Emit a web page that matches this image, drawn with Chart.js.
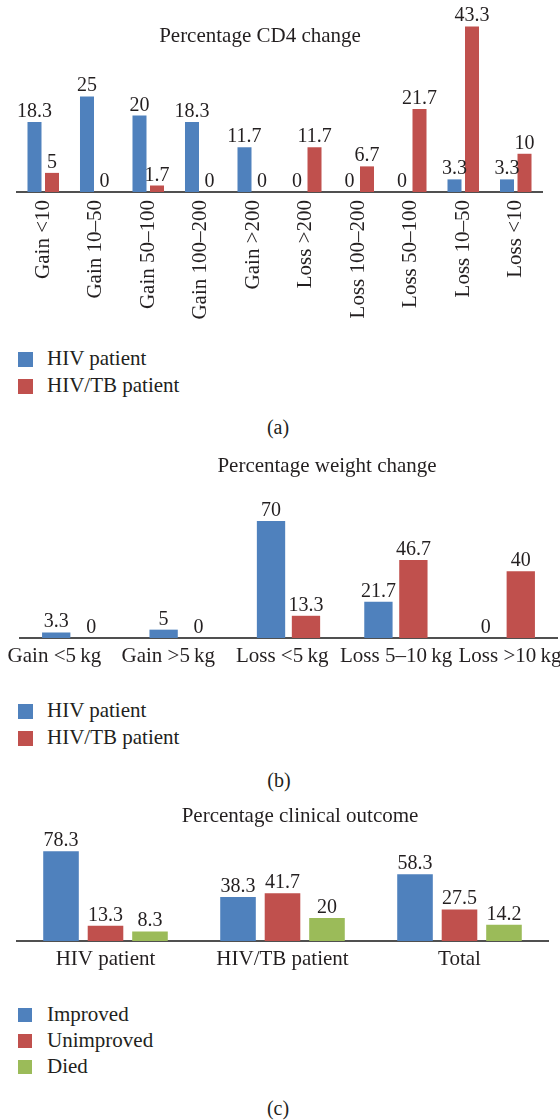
<!DOCTYPE html>
<html>
<head>
<meta charset="utf-8">
<script src="https://cdn.jsdelivr.net/npm/chart.js@4.4.1/dist/chart.umd.min.js"></script>
<style>
  html, body { margin: 0; padding: 0; background: #fff; }
  body { width: 560px; height: 1120px; position: relative; overflow: hidden;
         font-family: "Liberation Serif", "DejaVu Serif", serif; color: #231f20; }
  canvas { position: absolute; left: 0; }
  .txt { position: absolute; white-space: nowrap; line-height: 1; }
  .ctr { transform: translate(-50%, -50%); }
  .lft { transform: translate(0, -50%); }
  .sq { position: absolute; }
</style>
</head>
<body>
<canvas id="cd4" width="560" height="330" style="top:0px"></canvas>
<canvas id="weight" width="560" height="220" style="top:470px"></canvas>
<canvas id="outcome" width="560" height="175" style="top:825px"></canvas>
<div id="overlay"></div>
<script>
// ---------------- data ----------------
const cd4Categories = ['Gain <10', 'Gain 10–50', 'Gain 50–100', 'Gain 100–200', 'Gain >200',
                       'Loss >200', 'Loss 100–200', 'Loss 50–100', 'Loss 10–50', 'Loss <10'];
const cd4Hiv   = [18.3, 25, 20, 18.3, 11.7, 0, 0, 0, 3.3, 3.3];
const cd4HivTb = [5, 0, 1.7, 0, 0, 11.7, 6.7, 21.7, 43.3, 10];

const weightCategories = ['Gain <5\u2009kg', 'Gain >5\u2009kg', 'Loss <5\u2009kg', 'Loss 5–10\u2009kg', 'Loss >10\u2009kg'];
const weightHiv   = [3.3, 5, 70, 21.7, 0];
const weightHivTb = [0, 0, 13.3, 46.7, 40];

const outcomeCategories = ['HIV patient', 'HIV/TB patient', 'Total'];
const outcomeImproved   = [78.3, 38.3, 58.3];
const outcomeUnimproved = [13.3, 41.7, 27.5];
const outcomeDied       = [8.3, 20, 14.2];

const seriesHiv = 'HIV patient';
const seriesHivTb = 'HIV/TB patient';
const seriesImproved = 'Improved';
const seriesUnimproved = 'Unimproved';
const seriesDied = 'Died';

const titleCd4 = 'Percentage CD4 change';
const titleWeight = 'Percentage weight change';
const titleOutcome = 'Percentage clinical outcome';

// ---------------- style ----------------
const FONT = '"Liberation Serif", "DejaVu Serif", serif';
const TEXT = '#231f20';
const BLUE = '#4F81BD', RED = '#C0504D', GREEN = '#9BBB59';

const valueLabels = {
  id: 'valueLabels',
  afterDatasetsDraw(chart) {
    const ctx = chart.ctx;
    ctx.save();
    ctx.font = '20px ' + FONT;
    ctx.fillStyle = TEXT;
    ctx.textAlign = 'center';
    ctx.textBaseline = 'alphabetic';
    chart.data.datasets.forEach((ds, i) => {
      chart.getDatasetMeta(i).data.forEach((el, j) => {
        ctx.fillText(String(ds.data[j]), el.x, el.y - 5);
      });
    });
    ctx.restore();
  }
};

function barChart(id, labels, series, cfg) {
  const tickFont = { size: cfg.tickSize, family: FONT };
  const scales = {
    x: {
      grid: { display: false, drawTicks: false },
      border: { display: true, color: '#505050', width: 2 },
      ticks: { display: !cfg.spread, font: tickFont, color: TEXT, padding: cfg.tickPad,
               minRotation: cfg.rot, maxRotation: cfg.rot, autoSkip: false },
      afterFit(scale) { scale.height = cfg.spread ? 0 : cfg.axisH; }
    },
    y: { display: false, min: 0, max: cfg.max }
  };
  if (cfg.spread) {
    // separate label axis: category labels spread a little wider than the bar groups
    scales.xl = {
      type: 'linear', position: 'bottom', offset: false, bounds: 'data', grace: 0,
      min: cfg.spread[0], max: cfg.spread[1],
      grid: { display: false, drawTicks: false, offset: false },
      border: { display: false },
      afterBuildTicks(scale) { scale.ticks = labels.map((_, i) => ({ value: i })); },
      ticks: { font: tickFont, color: TEXT, padding: cfg.tickPad, minRotation: 0, maxRotation: 0,
               autoSkip: false, callback: (v) => labels[v] },
      afterFit(scale) { scale.height = cfg.axisH; scale.paddingLeft = 0; scale.paddingRight = 0; }
    };
  }
  return new Chart(document.getElementById(id), {
    type: 'bar',
    data: {
      labels: labels,
      datasets: series.map(s => ({
        label: s.label, data: s.data, backgroundColor: s.color, borderWidth: 0, xAxisID: 'x',
        categoryPercentage: cfg.catPct, barPercentage: cfg.barPct
      }))
    },
    options: {
      responsive: false, animation: false, devicePixelRatio: 1,
      layout: { padding: { left: cfg.left, right: cfg.right, top: cfg.top, bottom: 0 } },
      plugins: { legend: { display: false }, title: { display: false }, tooltip: { enabled: false } },
      scales: scales
    },
    plugins: [valueLabels]
  });
}

barChart('cd4', cd4Categories,
  [{ label: seriesHiv, data: cd4Hiv, color: BLUE }, { label: seriesHivTb, data: cd4HivTb, color: RED }],
  { left: 17, right: 18, top: 10, axisH: 138, max: 47.6, catPct: 0.667, barPct: 0.8,
    tickSize: 21, tickPad: 8, rot: 90 });

barChart('weight', weightCategories,
  [{ label: seriesHiv, data: weightHiv, color: BLUE }, { label: seriesHivTb, data: weightHivTb, color: RED }],
  { left: 20, right: 3, top: 20, axisH: 52, max: 88.6, catPct: 0.651, barPct: 0.81,
    tickSize: 21, tickPad: 6, rot: 0, spread: [-0.302, 4.413] });

barChart('outcome', outcomeCategories,
  [{ label: seriesImproved, data: outcomeImproved, color: BLUE },
   { label: seriesUnimproved, data: outcomeUnimproved, color: RED },
   { label: seriesDied, data: outcomeDied, color: GREEN }],
  { left: 17, right: 12, top: 20, axisH: 59, max: 83.8, catPct: 0.754, barPct: 0.8,
    tickSize: 21, tickPad: 6, rot: 0 });

// ---------------- HTML text: titles, legends, captions ----------------
const overlay = document.getElementById('overlay');
function text(str, x, y, size, cls) {
  const d = document.createElement('div');
  d.className = 'txt ' + cls;
  d.style.left = x + 'px'; d.style.top = y + 'px'; d.style.fontSize = size + 'px';
  d.textContent = str;
  overlay.appendChild(d);
}
function legend(items, x, ys, sq) {
  items.forEach((it, i) => {
    const s = document.createElement('div');
    s.className = 'sq';
    s.style.left = x + 'px'; s.style.top = (ys[i] - sq / 2) + 'px';
    s.style.width = sq + 'px'; s.style.height = sq + 'px'; s.style.background = it.color;
    overlay.appendChild(s);
    text(it.label, x + 29, ys[i] - 1, 21, 'lft');
  });
}

text(titleCd4, 260, 35, 21, 'ctr');
legend([{ label: seriesHiv, color: BLUE }, { label: seriesHivTb, color: RED }], 18, [359, 386], 15);
text('(a)', 278, 427, 20, 'ctr');

text(titleWeight, 327, 465, 21, 'ctr');
legend([{ label: seriesHiv, color: BLUE }, { label: seriesHivTb, color: RED }], 18, [711, 738], 15);
text('(b)', 279, 780, 20, 'ctr');

text(titleOutcome, 300, 815, 21, 'ctr');
legend([{ label: seriesImproved, color: BLUE }, { label: seriesUnimproved, color: RED },
        { label: seriesDied, color: GREEN }], 18, [1015, 1041, 1067], 14);
text('(c)', 278, 1108, 20, 'ctr');
</script>
</body>
</html>
